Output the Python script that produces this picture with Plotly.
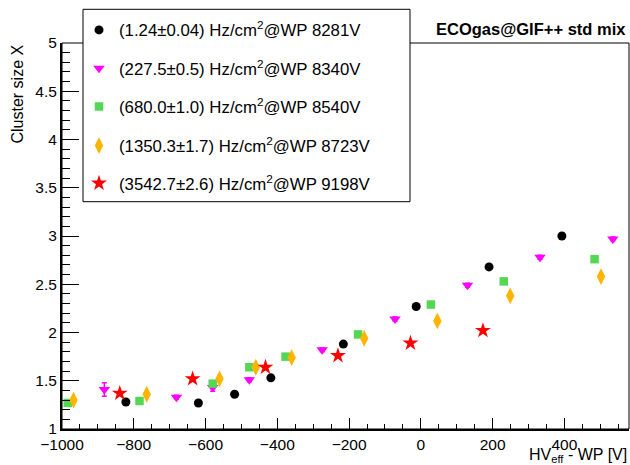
import plotly.graph_objects as go

# ---- data ----
labels = [
    "(1.24±0.04) Hz/cm<sup>2</sup>@WP 8281V",
    "(227.5±0.5) Hz/cm<sup>2</sup>@WP 8340V",
    "(680.0±1.0) Hz/cm<sup>2</sup>@WP 8540V",
    "(1350.3±1.7) Hz/cm<sup>2</sup>@WP 8723V",
    "(3542.7±2.6) Hz/cm<sup>2</sup>@WP 9198V",
]

x_black = [-822, -620, -519, -418, -216, -13, 190, 393]
y_black = [1.28, 1.27, 1.36, 1.53, 1.88, 2.27, 2.68, 3.00]

x_magenta = [-882, -681, -580, -478, -275, -72, 130, 332, 535]
y_magenta = [1.41, 1.33, 1.43, 1.51, 1.82, 2.14, 2.49, 2.78, 2.97]
e_magenta = [0.07, 0.02, 0.04, 0.02, 0.02, 0.02, 0.02, 0.02, 0.02]

x_green = [-984, -784, -580, -478, -377, -175, 28, 231, 484]
y_green = [1.27, 1.29, 1.47, 1.64, 1.75, 1.98, 2.29, 2.53, 2.76]

x_orange = [-968, -764, -561, -460, -360, -158, 46, 249, 502]
y_orange = [1.30, 1.36, 1.52, 1.64, 1.74, 1.94, 2.12, 2.38, 2.58]

x_red = [-839, -636, -433, -231, -29, 173]
y_red = [1.37, 1.52, 1.64, 1.76, 1.89, 2.02]

FONT = "Liberation Sans, Arial, Helvetica, sans-serif"

fig = go.Figure()

series = [
    (x_black, y_black, None, "circle", 9, "#000000"),
    (x_magenta, y_magenta, e_magenta, "triangle-down", 10, "#ff00ff"),
    (x_green, y_green, None, "square", 8.5, "#55d655"),
    (x_orange, y_orange, None, "diamond-tall", 12, "#ffb400"),
    (x_red, y_red, None, "star", 12, "#ff0000"),
]
legend_names = ["legend", "legend2", "legend3", "legend4", "legend5"]

for i, (xs, ys, es, sym, sz, col) in enumerate(series):
    kw = {}
    if es is not None:
        kw["error_y"] = dict(type="data", array=es, visible=True, color=col,
                             thickness=1.5, width=2.5)
    fig.add_trace(go.Scatter(
        x=xs, y=ys, mode="markers", name=labels[i],
        marker=dict(symbol=sym, size=sz, color=col, line=dict(width=0)),
        legend=legend_names[i], **kw))

# plot-area geometry (px)
L, R, T, B = 62, 1, 43, 36
W, H = 630, 465
pw, ph = W - L - R, H - T - B

def px2paper_x(px):
    return (px - L) / pw

def px2paper_y(py):
    return (H - B - py) / ph

legend_rows = [30, 68.3, 106.7, 145.7, 183.3]
layout_legends = {}
for name, row in zip(legend_names, legend_rows):
    layout_legends[name] = dict(
        x=px2paper_x(79), y=px2paper_y(row), xanchor="left", yanchor="middle",
        bgcolor="rgba(0,0,0,0)", borderwidth=0,
        font=dict(family=FONT, size=16.8, color="black"))

fig.update_layout(
    width=W, height=H,
    margin=dict(l=L, r=R, t=T, b=B, pad=0),
    paper_bgcolor="white", plot_bgcolor="white",
    showlegend=True,
    font=dict(family=FONT, size=15.5, color="black"),
    **layout_legends,
)

fig.update_xaxes(
    range=[-1000, 580], showgrid=False, zeroline=False,
    showline=True, linecolor="black", linewidth=2, mirror=False,
    ticks="inside", ticklen=11, tickwidth=1, tickcolor="black",
    tick0=0, dtick=200,
    minor=dict(ticks="inside", ticklen=5.5, dtick=50, tickwidth=1,
               tickcolor="black", showgrid=False),
    tickfont=dict(family=FONT, size=15.5, color="black"),
)
fig.update_yaxes(
    range=[1, 5], showgrid=False, zeroline=False,
    showline=True, linecolor="black", linewidth=2, mirror=False,
    ticks="inside", ticklen=17, tickwidth=1, tickcolor="black",
    tick0=1, dtick=0.5,
    minor=dict(ticks="inside", ticklen=8, dtick=0.1, tickwidth=1,
               tickcolor="black", showgrid=False),
    tickfont=dict(family=FONT, size=15.5, color="black"),
)

# frame (top/right)
fig.add_shape(type="rect", xref="paper", yref="paper", x0=0, x1=1, y0=0, y1=1,
              line=dict(color="black", width=1), fillcolor="rgba(0,0,0,0)",
              layer="above")
# legend box
fig.add_shape(type="rect", xref="paper", yref="paper",
              x0=px2paper_x(83), x1=px2paper_x(410),
              y0=px2paper_y(201.7), y1=px2paper_y(9.3),
              line=dict(color="black", width=1), fillcolor="white",
              layer="above")

# title
fig.add_annotation(text="<b>ECOgas@GIF++ std mix</b>", xref="paper", yref="paper",
                   x=px2paper_x(628), y=px2paper_y(28.5), xanchor="right",
                   yanchor="middle", showarrow=False,
                   font=dict(family=FONT, size=16.5, color="black"))
# axis titles
fig.add_annotation(text="HV<sub>eff</sub> - WP [V]", xref="paper", yref="paper",
                   x=px2paper_x(629), y=px2paper_y(455.5), xanchor="right",
                   yanchor="middle", showarrow=False,
                   font=dict(family=FONT, size=16, color="black"))
fig.add_annotation(text="Cluster size X", xref="paper", yref="paper",
                   x=px2paper_x(17), y=px2paper_y(43), xanchor="center",
                   yanchor="top", textangle=-90, showarrow=False,
                   font=dict(family=FONT, size=16, color="black"))

fig.write_html("out.html",
               config={"displayModeBar": False},
               post_script="document.body.style.margin='0';"
                           "document.body.style.overflow='hidden';")
